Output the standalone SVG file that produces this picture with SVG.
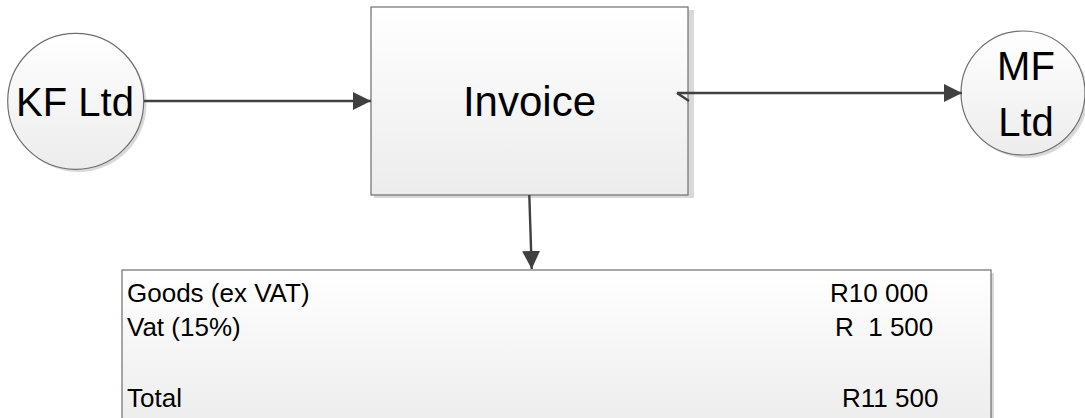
<svg xmlns="http://www.w3.org/2000/svg" width="1085" height="418" viewBox="0 0 1085 418">
  <defs>
    <linearGradient id="fillGrad" x1="0" y1="0" x2="0" y2="1">
      <stop offset="0" stop-color="#ffffff"/>
      <stop offset="1" stop-color="#ececec"/>
    </linearGradient>
    <marker id="arrow" viewBox="0 0 18 18" refX="18" refY="9" markerWidth="18" markerHeight="18" markerUnits="userSpaceOnUse" orient="auto">
      <path d="M0,0 L18,9 L0,18 Z" fill="#404040"/>
    </marker>
    <style>
      .shape { fill: url(#fillGrad); stroke: #6e6e6e; stroke-width: 1.2; }
      .shadow { fill: #d9d9d9; stroke: none; }
      .big { font-family: "Liberation Sans", Arial, sans-serif; font-size: 40px; fill: #000; text-anchor: middle; }
      .inv { font-family: "Liberation Sans", Arial, sans-serif; font-size: 42px; fill: #000; text-anchor: middle; }
      .row { font-family: "Liberation Sans", Arial, sans-serif; font-size: 26px; fill: #000; white-space: pre; }
      .conn { stroke: #404040; stroke-width: 2.4; fill: none; }
    </style>
  </defs>
  <rect width="1085" height="418" fill="#ffffff"/>

  <g id="node-kf">
    <circle class="shadow" cx="78.5" cy="104" r="68"/>
    <circle class="shape" cx="75.7" cy="101.3" r="68"/>
    <text class="big" x="75" y="116">KF Ltd</text>
  </g>

  <g id="node-invoice">
    <rect class="shadow" x="374" y="10" width="320" height="188"/>
    <rect class="shape" x="371" y="7" width="317" height="188"/>
    <text class="inv" x="529.5" y="116">Invoice</text>
  </g>

  <g id="node-mf">
    <circle class="shadow" cx="1026" cy="96" r="62"/>
    <circle class="shape" cx="1023" cy="93" r="62"/>
    <text class="big" x="1026" y="80">MF</text>
    <text class="big" x="1026" y="136">Ltd</text>
  </g>

  <g id="node-table">
    <rect class="shadow" x="125" y="273" width="869" height="160"/>
    <rect class="shape" x="122" y="270" width="869" height="160"/>
    <text class="row" x="127" y="301.5">Goods (ex VAT)</text>
    <text class="row" x="127" y="336">Vat (15%)</text>
    <text class="row" x="127" y="407">Total</text>
    <text class="row" x="830" y="301.5">R10 000</text>
    <text class="row" x="835" y="336">R  1 500</text>
    <text class="row" x="842" y="407">R11 500</text>
  </g>

  <g id="connectors">
    <line class="conn" x1="144" y1="101" x2="371" y2="101" marker-end="url(#arrow)"/>
    <line class="conn" x1="677" y1="93" x2="962" y2="93" marker-end="url(#arrow)"/>
    <path class="conn" d="M677,93 L689,101" stroke-width="1.8"/>
    <line class="conn" x1="529.3" y1="195" x2="531.7" y2="269" marker-end="url(#arrow)"/>
  </g>
</svg>
